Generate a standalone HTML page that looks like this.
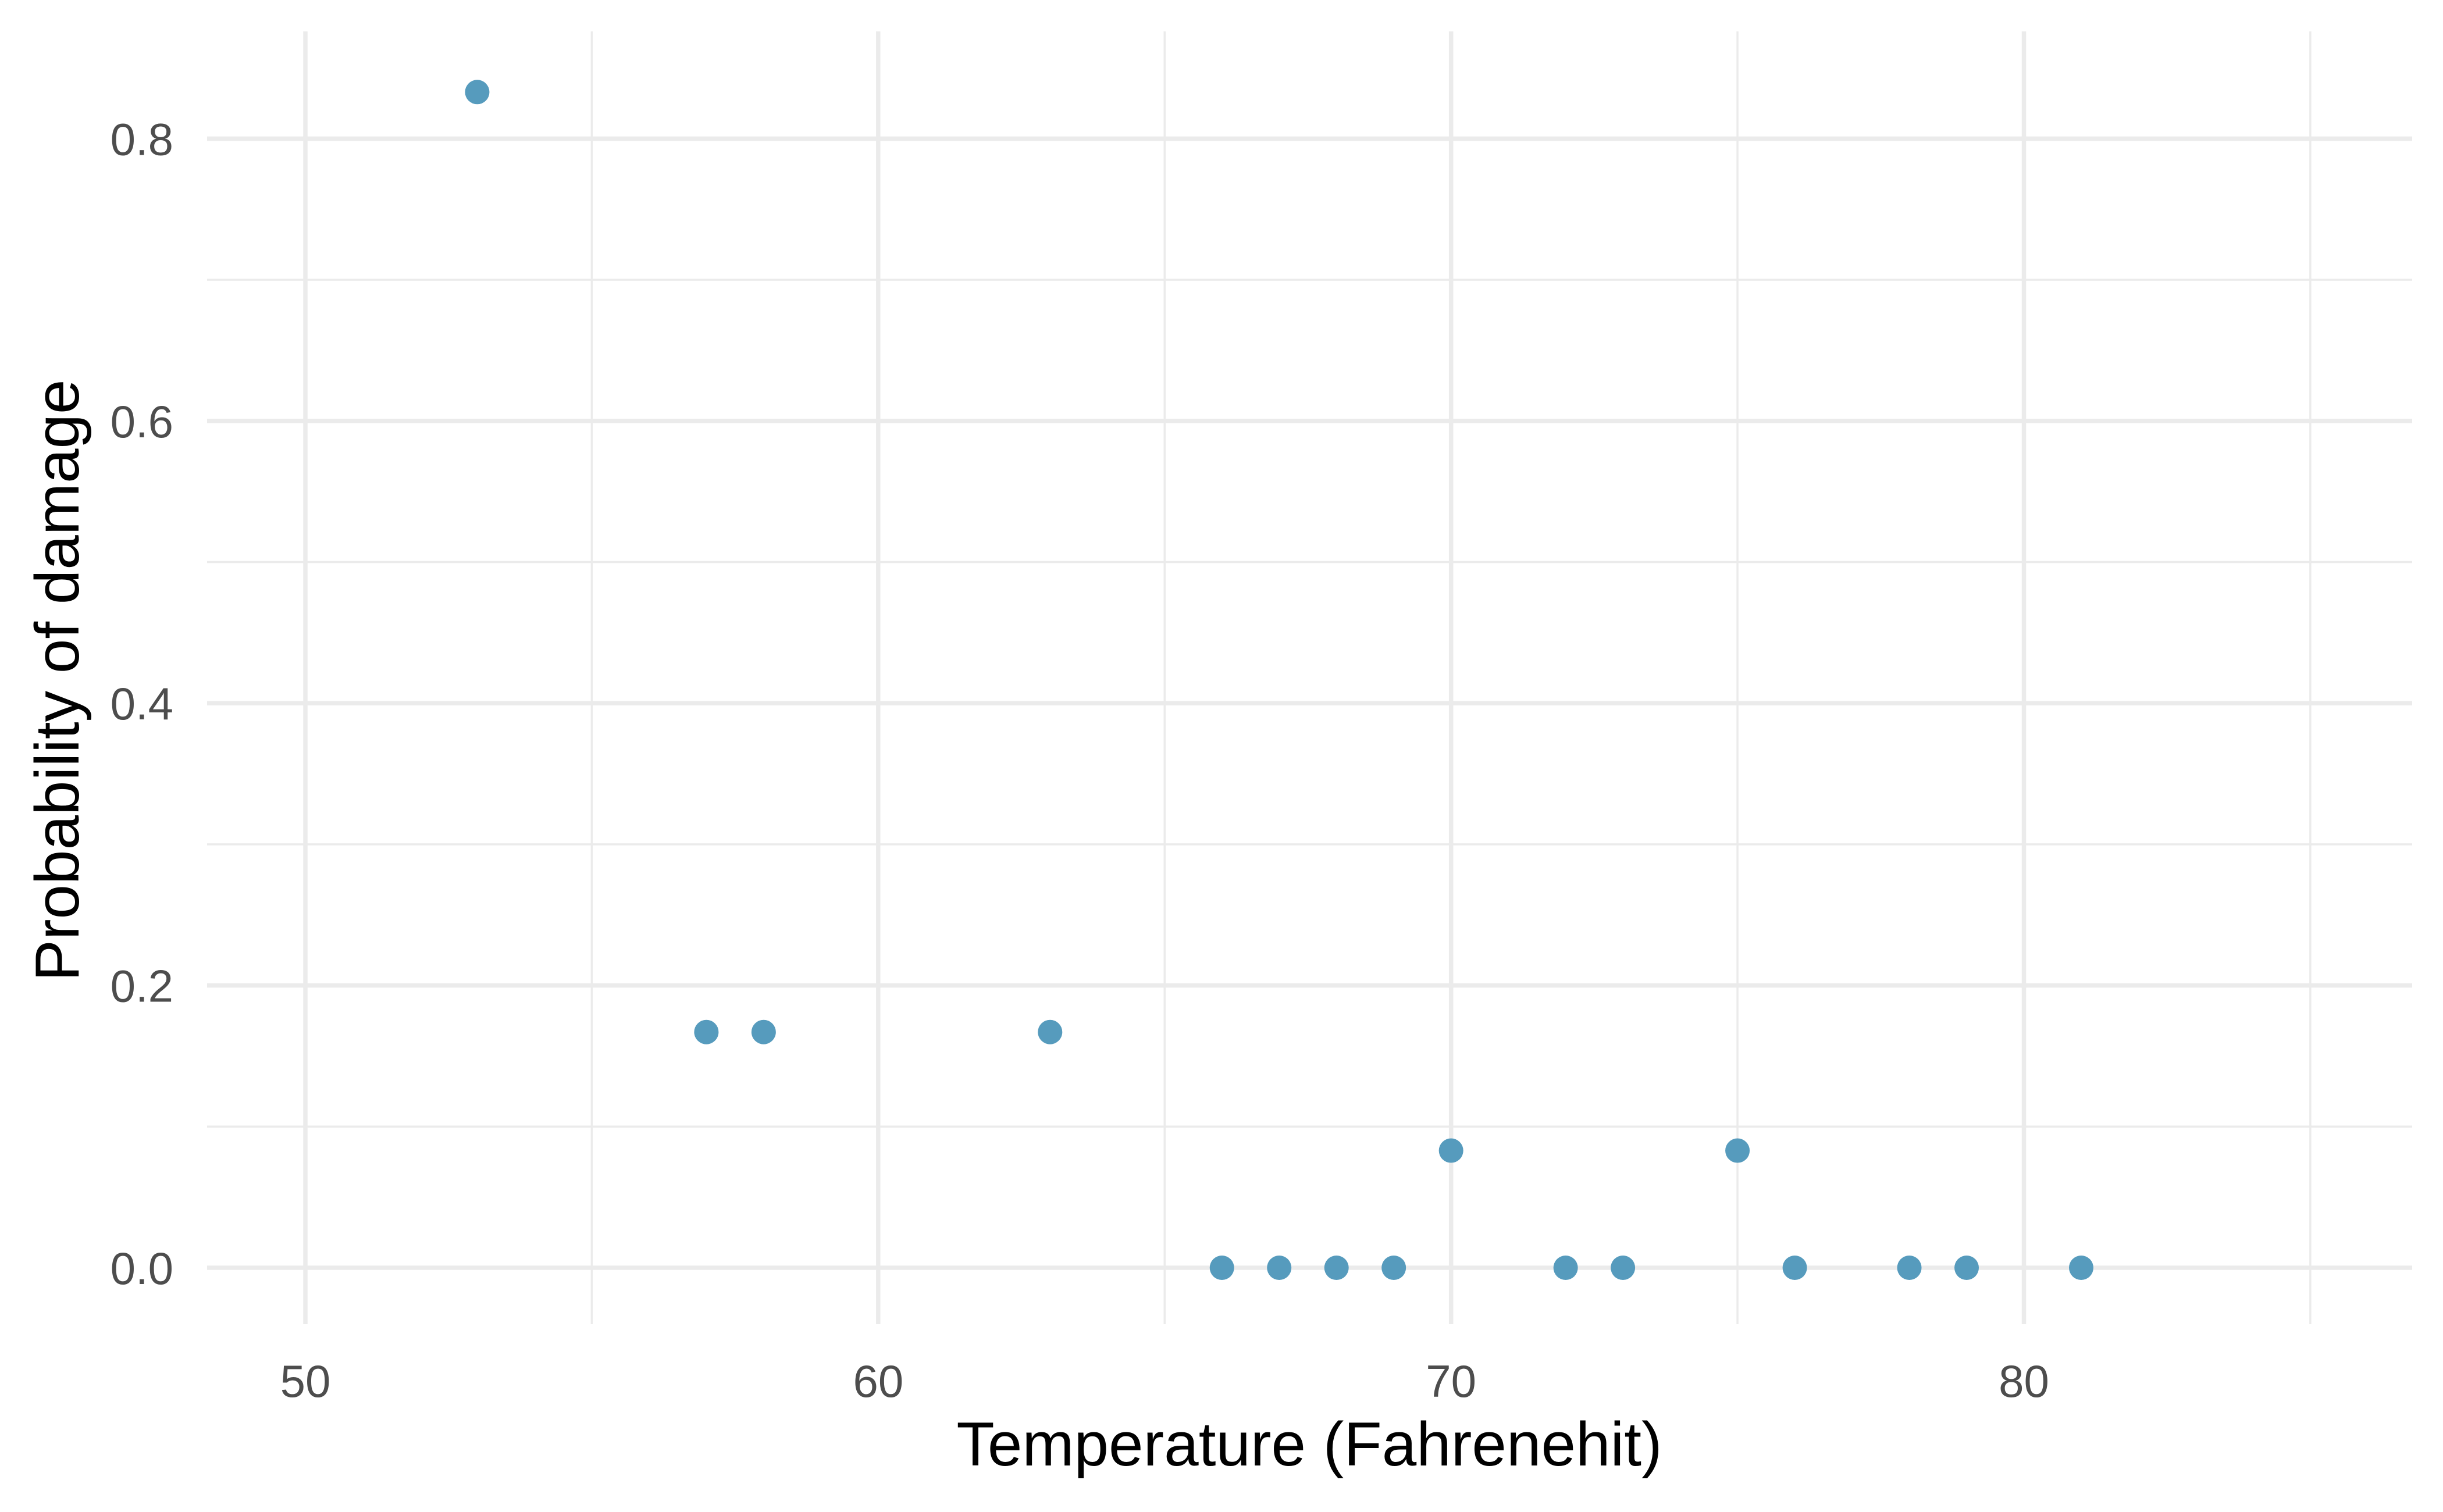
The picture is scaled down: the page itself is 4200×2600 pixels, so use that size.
<!DOCTYPE html>
<html><head><meta charset="utf-8"><style>
html,body{margin:0;padding:0;background:#fff;}
svg text{font-family:"Liberation Sans",Arial,sans-serif;}
</style></head><body>
<svg id="chart" width="4200" height="2595" viewBox="0 0 4200 2595" xmlns="http://www.w3.org/2000/svg">
<rect width="4200" height="2595" fill="#fff"/>
<g id="grid"></g>
<g id="pts"></g>
<g id="labels"></g>
<text x="2251" y="2520" font-size="107" text-anchor="middle" fill="#000">Temperature (Fahrenehit)</text>
<text x="0" y="0" font-size="107" text-anchor="middle" fill="#000" transform="translate(135,1170) rotate(-90)">Probability of damage</text>
</svg>
<script>
const temps = [53, 57, 58, 63, 66, 67, 68, 69, 70, 72, 73, 75, 76, 78, 79, 81];
const probs = [0.833, 0.167, 0.167, 0.167, 0, 0, 0, 0, 0.083, 0, 0, 0.083, 0, 0, 0, 0];
const xTicks = [50, 60, 70, 80];
const xMinor = [55, 65, 75, 85];
const yTicks = [0.0, 0.2, 0.4, 0.6, 0.8];
const yMinor = [0.1, 0.3, 0.5, 0.7];
const yTickLabels = ["0.0", "0.2", "0.4", "0.6", "0.8"];

const NS = "http://www.w3.org/2000/svg";
const L = 356, R = 4147, T = 54, B = 2277;
function sx(v){ return 525 + (v - 50) * (3479.5 - 525) / 30; }
function sy(v){ return 2180 - v * (2180 - 238.4) / 0.8; }
const grid = document.getElementById('grid');
const pts = document.getElementById('pts');
const labels = document.getElementById('labels');
function line(x1,y1,x2,y2,w,name){
  const l = document.createElementNS(NS,'line');
  l.setAttribute('x1',x1);l.setAttribute('y1',y1);l.setAttribute('x2',x2);l.setAttribute('y2',y2);
  l.setAttribute('stroke','#EBEBEB');l.setAttribute('stroke-width',w);
  
  
  grid.appendChild(l);
}
yMinor.forEach(v=>line(L,sy(v),R,sy(v),3.5,'y-minor-gridline'));
xMinor.forEach(v=>line(sx(v),T,sx(v),B,3.5,'x-minor-gridline'));
yTicks.forEach(v=>line(L,sy(v),R,sy(v),7.5,'y-major-gridline'));
xTicks.forEach(v=>line(sx(v),T,sx(v),B,7.5,'x-major-gridline'));
function txt(x,y,s,anchor,name){
  const t = document.createElementNS(NS,'text');
  t.setAttribute('x',x);t.setAttribute('y',y);t.setAttribute('font-size','78');
  t.setAttribute('fill','#4D4D4D');t.setAttribute('text-anchor',anchor);
  t.textContent = s;
  
  
  labels.appendChild(t);
}
xTicks.forEach(v=>txt(sx(v),2402,String(v),'middle','x-tick-label'));
yTicks.forEach((v,i)=>txt(298,sy(v)+28,yTickLabels[i],'end','y-tick-label'));
temps.forEach((t,i)=>{
  const c = document.createElementNS(NS,'circle');
  c.setAttribute('cx',sx(t));c.setAttribute('cy',sy(probs[i]));c.setAttribute('r',21);
  c.setAttribute('fill','#569BBD');
  
  
  pts.appendChild(c);
});
</script>
</body></html>
